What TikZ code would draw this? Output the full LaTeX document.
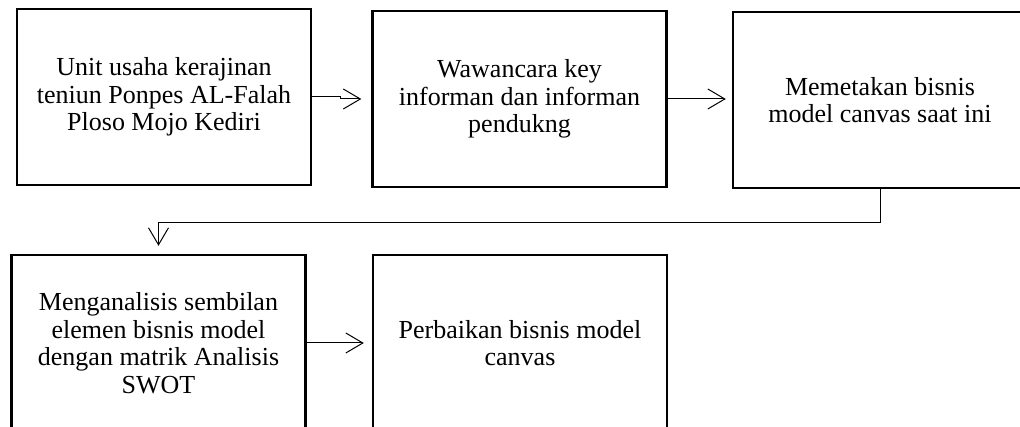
\documentclass[tikz,border=0pt]{standalone}
\usepackage{fontspec}
\setmainfont{Liberation Serif}
\usetikzlibrary{arrows.meta,positioning}

\begin{document}
\begin{tikzpicture}[x=1pt,y=1pt]
\tikzstyle{stage} = [
	shape=rectangle,
	draw=black, %border of the box
	line width=2.4pt,
	minimum width=294pt,
	minimum height=176pt,
	align=center,
	inner sep=2pt,
	font=\fontsize{26}{27.5}\selectfont
];
\tikzstyle{flow} = [
	-{Straight Barb[length=17pt,width=20pt]},
	line width=1pt,
	color=black
];

\useasboundingbox (0,0) rectangle (1020,427);

%first row
\node[stage](unit) at (164,330) {Unit usaha kerajinan\\teniun Ponpes AL-Falah\\Ploso Mojo Kediri};
\node[stage](wawancara) at (519.5,328) {Wawancara key\\informan dan informan\\pendukng};
\node[stage](memetakan) at (880,327) {Memetakan bisnis\\model canvas saat ini};

%second row
\node[stage](analisis) at (158.5,84) {Menganalisis sembilan\\elemen bisnis model\\dengan matrik Analisis\\SWOT};
\node[stage](perbaikan) at (520,84) {Perbaikan bisnis model\\canvas};

%connectors
\draw[flow, shorten >=10pt]
	(unit.east) -- ++(28,0) |- (wawancara.west)
;
\draw[flow, shorten >=6pt]
	(wawancara.east) -- (wawancara.east -| memetakan.west)
;
\draw[flow, shorten >=8pt]
	(memetakan.south) -- ++(0,-33) -| (analisis.north)
;
\draw[flow, shorten >=8pt]
	(analisis.east) -- (analisis.east -| perbaikan.west)
;
\end{tikzpicture}
\end{document}
